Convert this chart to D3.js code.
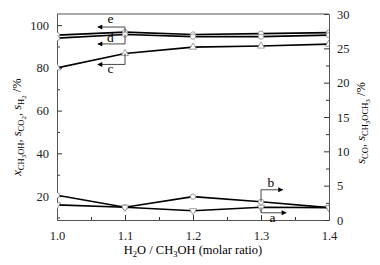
<!DOCTYPE html>
<html><head><meta charset="utf-8">
<script src="https://cdn.jsdelivr.net/npm/d3@7"></script>
<style>body{margin:0;background:#fff}svg{display:block}</style>
</head><body>
<svg id="c" width="380" height="265"></svg>
<script>
// ---- data ----
const ratios = [1.0, 1.1, 1.2, 1.3, 1.4];
const xTicks = [1.0, 1.1, 1.2, 1.3, 1.4];
const leftTicks = [20, 40, 60, 80, 100];
const rightTicks = [0, 5, 10, 15, 20, 25, 30];
// left axis series (%)
const sH2 = [95.3, 96.7, 95.6, 96.0, 96.5];      // e
const sCO2 = [93.9, 95.6, 94.6, 94.6, 95.3];     // d
const xCH3OH = [80.0, 86.7, 89.7, 90.2, 91.1];   // c
// right axis series (%)
const sCO = [3.6, 1.85, 3.4, 2.65, 1.8];         // b
const sDME = [2.2, 1.85, 1.35, 1.85, 1.8];       // a

const W = 380, H = 265;
const m = {l: 57, r: 329, t: 14, b: 220};
const svg = d3.select('#c');
const x = d3.scaleLinear().domain([1.0, 1.4]).range([m.l, m.r]);
const yL = d3.scaleLinear().domain([8.8, 105.2]).range([m.b, m.t]);
const yR = d3.scaleLinear().domain([0, 30]).range([m.b, m.t]);
const FONT = '"Liberation Serif","Times New Roman",serif';

svg.append('defs').append('clipPath').attr('id', 'clip')
  .append('rect').attr('x', m.l).attr('y', m.t).attr('width', m.r - m.l).attr('height', m.b - m.t);
svg.select('defs').append('marker').attr('id', 'ah').attr('viewBox', '0 0 10 10')
  .attr('refX', 9).attr('refY', 5).attr('markerWidth', 7).attr('markerHeight', 5)
  .attr('markerUnits', 'userSpaceOnUse').attr('orient', 'auto')
  .append('path').attr('d', 'M0,0L10,5L0,10Z').attr('fill', '#000');

// axes (inward ticks)
function styleAxis(g) {
  g.selectAll('path').attr('stroke', '#555').attr('stroke-width', 1);
  g.selectAll('line').attr('stroke', '#333');
  g.selectAll('text').attr('font-family', FONT).attr('font-size', 12.5).attr('fill', '#222');
}
const xMinor = d3.range(1.05, 1.4, 0.1);
svg.append('g').attr('transform', `translate(0,${m.b})`)
  .call(d3.axisBottom(x).tickValues(xMinor).tickSize(-3).tickFormat('').tickSizeOuter(0)).call(styleAxis);
svg.append('g').attr('transform', `translate(0,${m.b})`)
  .call(d3.axisBottom(x).tickValues(xTicks).tickSize(-5).tickPadding(11).tickFormat(d3.format('.1f')).tickSizeOuter(0)).call(styleAxis);
svg.append('g').attr('transform', `translate(${m.l},0)`)
  .call(d3.axisLeft(yL).tickValues([10, 30, 50, 70, 90]).tickSize(-3).tickFormat('').tickSizeOuter(0)).call(styleAxis);
svg.append('g').attr('transform', `translate(${m.l},0)`)
  .call(d3.axisLeft(yL).tickValues(leftTicks).tickSize(-5).tickPadding(8).tickSizeOuter(0)).call(styleAxis);
svg.append('g').attr('transform', `translate(${m.r},0)`)
  .call(d3.axisRight(yR).tickValues(d3.range(2.5, 30, 5)).tickSize(-3).tickFormat('').tickSizeOuter(0)).call(styleAxis);
svg.append('g').attr('transform', `translate(${m.r},0)`)
  .call(d3.axisRight(yR).tickValues(rightTicks).tickSize(-5).tickPadding(8).tickSizeOuter(0)).call(styleAxis);
svg.append('line').attr('x1', m.l).attr('x2', m.r).attr('y1', m.t).attr('y2', m.t).attr('stroke', '#555');

// series
const plot = svg.append('g').attr('clip-path', 'url(#clip)');
const series = [
  {v: sH2, y: yL, sym: d3.symbolCircle},
  {v: sCO2, y: yL, sym: d3.symbolCircle},
  {v: xCH3OH, y: yL, sym: d3.symbolTriangle},
  {v: sCO, y: yR, sym: d3.symbolCircle},
  {v: sDME, y: yR, sym: d3.symbolTriangle, rot: 180}
];
series.forEach(s => {
  const line = d3.line().x((d, i) => x(ratios[i])).y(d => s.y(d));
  plot.append('path').datum(s.v).attr('d', line).attr('fill', 'none').attr('stroke', '#000').attr('stroke-width', 1.6);
});
series.forEach(s => {
  plot.selectAll(null).data(s.v).enter().append('path')
    .attr('d', d3.symbol().type(s.sym).size(22))
    .attr('transform', (d, i) => `translate(${x(ratios[i])},${s.y(d)})` + (s.rot ? ` rotate(${s.rot})` : ''))
    .attr('fill', '#fff').attr('stroke', '#888').attr('stroke-width', 0.8);
});

// annotations (in data units)
const ann = [
  {lab: 'e', y: yL, ay: 99.1, by: sH2[1], x0: 1.1, x1: 1.06, ly: -4},
  {lab: 'd', y: yL, ay: 91.2, by: sCO2[1], x0: 1.1, x1: 1.06, ly: -2},
  {lab: 'c', y: yL, ay: 81.6, by: xCH3OH[1], x0: 1.1, x1: 1.06, ly: 9},
  {lab: 'b', y: yR, ay: 4.4, by: sCO[3], x0: 1.3, x1: 1.332, ly: -3},
  {lab: 'a', y: yR, ay: 1.05, by: sDME[3], x0: 1.3, x1: 1.337, ly: 9}
];
ann.forEach(a => {
  svg.append('path')
    .attr('d', `M${x(a.x0)},${a.y(a.by)}L${x(a.x0)},${a.y(a.ay)}L${x(a.x1)},${a.y(a.ay)}`)
    .attr('fill', 'none').attr('stroke', '#333').attr('stroke-width', 0.9).attr('marker-end', 'url(#ah)');
  svg.append('text').attr('x', (x(a.x0) + x(a.x1)) / 2 - 1).attr('y', a.y(a.ay) + a.ly)
    .attr('text-anchor', 'middle').attr('font-family', FONT).attr('font-size', 13.5).text(a.lab);
});

// rich text helper
const SH = [0, 3, 5], FS = [12.5, 8.5, 7];
function rich(t, segs) {
  let prev = 0;
  segs.forEach(([s, lvl, it]) => {
    t.append('tspan').attr('dy', SH[lvl] - SH[prev]).attr('font-size', FS[lvl])
      .attr('font-style', it ? 'italic' : 'normal').text(s);
    prev = lvl;
  });
  if (prev) t.append('tspan').attr('dy', -SH[prev]).text('');
}
const tl = svg.append('text').attr('font-family', FONT).attr('text-anchor', 'middle')
  .attr('transform', 'translate(21,127) rotate(-90)');
rich(tl, [['x', 0, 1], ['CH', 1], ['3', 2], ['OH', 1], [', ', 0], ['s', 0, 1], ['CO', 1], ['2', 2], [', ', 0], ['s', 0, 1], ['H', 1], ['2', 2], [' /%', 0]]);
const tr = svg.append('text').attr('font-family', FONT).attr('text-anchor', 'middle')
  .attr('transform', 'translate(365,123) rotate(-90)');
rich(tr, [['s', 0, 1], ['CO', 1], [', ', 0], ['s', 0, 1], ['CH', 1], ['3', 2], ['OCH', 1], ['3', 2], [' /%', 0]]);
const tb = svg.append('text').attr('font-family', FONT).attr('text-anchor', 'middle')
  .attr('x', 193).attr('y', 254);
rich(tb, [['H', 0], ['2', 1], ['O / CH', 0], ['3', 1], ['OH (molar ratio)', 0]]);
</script>
</body></html>
